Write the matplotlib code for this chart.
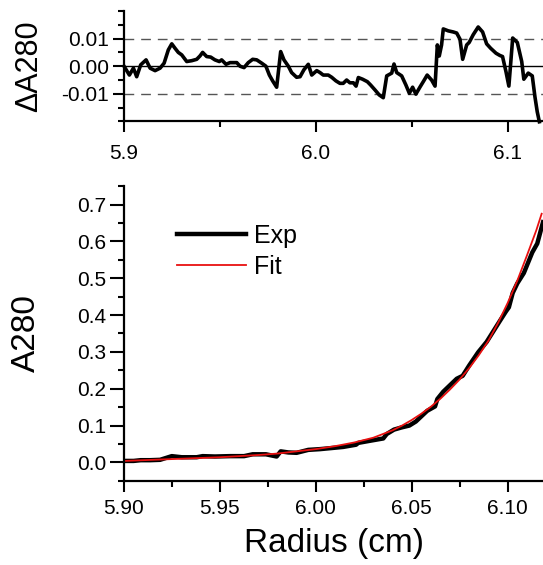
import matplotlib
matplotlib.use('Agg')
import matplotlib.pyplot as plt
from matplotlib.ticker import MultipleLocator, FormatStrFormatter

plt.rcParams['font.family'] = ['Liberation Sans', 'DejaVu Sans']

# residuals (top panel)
resid_r = [5.9000, 5.9028, 5.9049, 5.9066, 5.9087, 5.9115, 5.9136, 5.9162, 5.9188, 5.9209,
           5.9231, 5.9249, 5.9266, 5.9283, 5.9301, 5.9327, 5.9353, 5.9379, 5.9396, 5.9410,
           5.9431, 5.9452, 5.9474, 5.9497, 5.9509, 5.9532, 5.9553, 5.9588, 5.9605, 5.9626,
           5.9648, 5.9671, 5.9692, 5.9718, 5.9740, 5.9758, 5.9775, 5.9796, 5.9817, 5.9834,
           5.9857, 5.9874, 5.9900, 5.9918, 5.9938, 5.9961, 5.9979, 6.0005, 6.0022, 6.0039,
           6.0065, 6.0083, 6.0105, 6.0126, 6.0143, 6.0161, 6.0178, 6.0196, 6.0210, 6.0222,
           6.0244, 6.0269, 6.0286, 6.0309, 6.0331, 6.0352, 6.0370, 6.0396, 6.0408, 6.0422,
           6.0448, 6.0470, 6.0488, 6.0505, 6.0522, 6.0543, 6.0564, 6.0581, 6.0604, 6.0622,
           6.0634, 6.0644, 6.0656, 6.0665, 6.0691, 6.0717, 6.0735, 6.0752, 6.0766, 6.0787,
           6.0800, 6.0821, 6.0847, 6.0870, 6.0891, 6.0912, 6.0940, 6.0960, 6.0974, 6.0992,
           6.1007, 6.1027, 6.1051, 6.1074, 6.1085, 6.1108, 6.1129, 6.1143, 6.1155, 6.1166]
resid_a = [0.0000, -0.0032, -0.0007, -0.0038, 0.0005, 0.0023, -0.0007, -0.0016, -0.0007, 0.0011,
           0.0059, 0.0081, 0.0065, 0.0050, 0.0041, 0.0017, 0.0020, 0.0025, 0.0037, 0.0050,
           0.0035, 0.0033, 0.0023, 0.0017, 0.0023, 0.0007, 0.0013, 0.0013, 0.0000, -0.0005,
           0.0013, 0.0025, 0.0023, 0.0011, 0.0000, -0.0032, -0.0053, -0.0076, 0.0053, 0.0023,
           0.0000, -0.0023, -0.0040, -0.0038, -0.0013, 0.0007, -0.0032, -0.0016, -0.0023, -0.0032,
           -0.0032, -0.0040, -0.0053, -0.0062, -0.0062, -0.0050, -0.0060, -0.0060, -0.0072, -0.0041,
           -0.0047, -0.0056, -0.0068, -0.0086, -0.0104, -0.0114, -0.0035, -0.0025, 0.0008, -0.0023,
           -0.0035, -0.0068, -0.0098, -0.0076, -0.0101, -0.0076, -0.0052, -0.0032, -0.0050, -0.0072,
           0.0077, 0.0037, 0.0077, 0.0135, 0.0128, 0.0124, 0.0120, 0.0098, 0.0025, 0.0077,
           0.0086, 0.0114, 0.0142, 0.0124, 0.0081, 0.0065, 0.0047, 0.0039, 0.0035, -0.0020,
           -0.0072, 0.0102, 0.0086, 0.0017, -0.0047, -0.0025, -0.0035, -0.0111, -0.0165, -0.0201]

# experimental scan (bottom panel)
exp_r = [5.9000, 5.9050, 5.9087, 5.9136, 5.9188, 5.9249, 5.9301, 5.9379, 5.9410, 5.9474,
         5.9553, 5.9626, 5.9671, 5.9740, 5.9796, 5.9817, 5.9857, 5.9900, 5.9961, 6.0022,
         6.0083, 6.0143, 6.0210, 6.0222, 6.0286, 6.0352, 6.0370, 6.0408, 6.0448, 6.0488,
         6.0522, 6.0581, 6.0622, 6.0634, 6.0665, 6.0735, 6.0766, 6.0800, 6.0847, 6.0891,
         6.0960, 6.0992, 6.1007, 6.1027, 6.1051, 6.1085, 6.1129, 6.1155, 6.1185]
exp_a = [0.004, 0.004, 0.006, 0.006, 0.007, 0.017, 0.014, 0.014, 0.017, 0.016,
         0.017, 0.017, 0.022, 0.022, 0.016, 0.030, 0.027, 0.026, 0.034, 0.036,
         0.039, 0.042, 0.048, 0.053, 0.059, 0.065, 0.077, 0.089, 0.095, 0.100,
         0.111, 0.140, 0.152, 0.172, 0.192, 0.227, 0.235, 0.263, 0.299, 0.327,
         0.384, 0.410, 0.421, 0.460, 0.486, 0.514, 0.570, 0.594, 0.652]

# fitted curve
fit_r = [5.900, 5.910, 5.920, 5.930, 5.940, 5.950, 5.960, 5.970, 5.980, 5.990,
         6.000, 6.010, 6.020, 6.030, 6.040, 6.045, 6.050, 6.055, 6.060, 6.065,
         6.070, 6.075, 6.080, 6.085, 6.090, 6.095, 6.100, 6.105, 6.110, 6.115, 6.1178]
fit_a = [0.004, 0.006, 0.008, 0.010, 0.012, 0.014, 0.017, 0.020, 0.024, 0.030,
         0.036, 0.044, 0.054, 0.067, 0.087, 0.100, 0.115, 0.132, 0.151, 0.173,
         0.198, 0.225, 0.256, 0.291, 0.330, 0.378, 0.432, 0.492, 0.560, 0.630, 0.675]

xmin, xmax = 5.9, 6.1185

fig = plt.figure(figsize=(5.43, 5.65), dpi=100)
ax1 = fig.add_axes([0.2284, 0.785, 0.7716, 0.1956])
ax2 = fig.add_axes([0.2284, 0.149, 0.7716, 0.5216])

for ax in (ax1, ax2):
    ax.spines['top'].set_visible(False)
    ax.spines['right'].set_visible(False)
    ax.spines['left'].set_linewidth(1.6)
    ax.spines['bottom'].set_linewidth(1.6)
    ax.set_xlim(xmin, xmax)
    ax.tick_params(which='both', direction='out', width=1.5, labelsize=15, pad=3)
    ax.tick_params(which='major', length=8)
    ax.tick_params(which='minor', length=4.5)
    ax.tick_params(axis='x', which='both', pad=5)

# top panel
ax1.axhline(0, color='black', lw=1.0)
ax1.axhline(0.01, color='#555555', lw=1.0, ls=(0, (7, 5)))
ax1.axhline(-0.01, color='#555555', lw=1.0, ls=(0, (7, 5)))
ax1.plot(resid_r, resid_a, color='black', lw=2.6, clip_on=False)
ax1.set_ylim(-0.02, 0.02)
ax1.set_yticks([-0.01, 0.0, 0.01])
ax1.yaxis.set_minor_locator(MultipleLocator(0.005))
ax1.yaxis.set_major_formatter(FormatStrFormatter('%.2f'))
ax1.set_xticks([5.9, 6.0, 6.1])
ax1.xaxis.set_minor_locator(MultipleLocator(0.05))
ax1.xaxis.set_major_formatter(FormatStrFormatter('%.1f'))
ax1.tick_params(axis='x', which='both', pad=8)
ax1.set_ylabel('\u0394A280', fontsize=22)
ax1.yaxis.set_label_coords(-0.19, 0.5)

# bottom panel
ax2.plot(exp_r, exp_a, color='black', lw=3.2, label='Exp')
ax2.plot(fit_r, fit_a, color='#e81010', lw=1.3, label='Fit')
ax2.set_ylim(-0.05, 0.75)
ax2.yaxis.set_major_locator(MultipleLocator(0.1))
ax2.yaxis.set_minor_locator(MultipleLocator(0.05))
ax2.yaxis.set_major_formatter(FormatStrFormatter('%.1f'))
ax2.xaxis.set_major_locator(MultipleLocator(0.05))
ax2.xaxis.set_minor_locator(MultipleLocator(0.025))
ax2.xaxis.set_major_formatter(FormatStrFormatter('%.2f'))
ax2.tick_params(axis='y', which='major', length=10)
ax2.set_ylabel('A280', fontsize=24)
ax2.yaxis.set_label_coords(-0.195, 0.5)
ax2.set_xlabel('Radius (cm)', fontsize=24)
ax2.xaxis.set_label_coords(0.5, -0.16)

ax2.legend(loc='upper left', bbox_to_anchor=(0.126, 0.873), frameon=False, fontsize=18,
           handlelength=2.75, handletextpad=0.35, borderpad=0, borderaxespad=0,
           labelspacing=0.28)

fig.savefig('out.png', dpi=100)
